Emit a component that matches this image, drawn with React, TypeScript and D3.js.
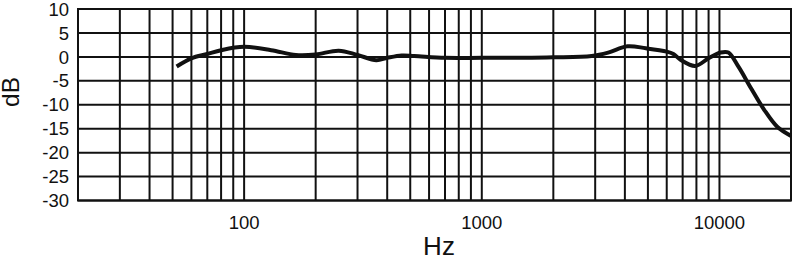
import React from "react";
import * as d3 from "d3";

const freqs = [52, 60, 70, 80, 100, 130, 165, 200, 250, 300, 360, 400, 460, 520, 700, 1000, 1500, 2000, 2900, 3400, 4100, 4900, 6000, 6400, 6900, 7900, 9000, 10100, 10900, 12000, 13600, 15400, 17500, 20000];
const dbValues = [-2, -0.3, 0.6, 1.4, 2.1, 1.4, 0.4, 0.5, 1.3, 0.4, -0.7, -0.2, 0.3, 0.2, -0.2, -0.2, -0.2, -0.1, 0.2, 0.9, 2.2, 1.8, 1.1, 0.6, -0.7, -1.9, -0.3, 0.9, 0.9, -2, -6.6, -11, -14.6, -16.5];
const yTicks = [10, 5, 0, -5, -10, -15, -20, -25, -30];
const xLabels = [100, 1000, 10000];
const xGrid = [30, 40, 50, 60, 70, 80, 90, 100, 200, 300, 400, 500, 600, 700, 800, 900, 1000, 2000, 3000, 4000, 5000, 6000, 7000, 8000, 9000, 10000];

export default function App() {
  const W = 800, H = 257;
  const x = d3.scaleLog().domain([20, 20000]).range([78, 791]);
  const y = d3.scaleLinear().domain([-30, 10]).range([200.5, 9]);
  const pts: [number, number][] = freqs.map((f, i) => [f, dbValues[i]]);
  const line = d3.line<[number, number]>()
    .x(d => x(d[0]))
    .y(d => y(d[1]))
    .curve(d3.curveCatmullRom.alpha(0.5));
  const font = "'Liberation Sans', Arial, Helvetica, sans-serif";
  const c = "#111";
  return (
    <svg width={W} height={H} style={{ position: "fixed", left: 0, top: 0, background: "#fff" }}>
      <rect x={0} y={0} width={W} height={H} fill="#fff" />
      {yTicks.map(t => (
        <line key={"h" + t} x1={x(20)} x2={x(20000)} y1={y(t)} y2={y(t)} stroke={c} strokeWidth={2} />
      ))}
      {xGrid.map(f => (
        <line key={"v" + f} x1={x(f)} x2={x(f)} y1={y(10)} y2={y(-30)} stroke={c} strokeWidth={2} />
      ))}
      <rect x={x(20)} y={y(10)} width={x(20000) - x(20)} height={y(-30) - y(10)} fill="none" stroke={c} strokeWidth={2} />
      <path d={line(pts) || ""} fill="none" stroke={c} strokeWidth={4} strokeLinejoin="round" strokeLinecap="butt" />
      {yTicks.map(t => (
        <text key={"yl" + t} x={69} y={y(t)} dy="0.36em" textAnchor="end" fontFamily={font} fontSize={18.5} fill={c}>{t}</text>
      ))}
      {xLabels.map(f => (
        <text key={"xl" + f} x={x(f)} y={229} textAnchor="middle" fontFamily={font} fontSize={18.5} fill={c}>{f}</text>
      ))}
      <text x={439} y={255} textAnchor="middle" fontFamily={font} fontSize={26} fill={c}>Hz</text>
      <text transform="translate(18.5,92) rotate(-90)" textAnchor="middle" fontFamily={font} fontSize={24.5} fill={c}>dB</text>
    </svg>
  );
}
